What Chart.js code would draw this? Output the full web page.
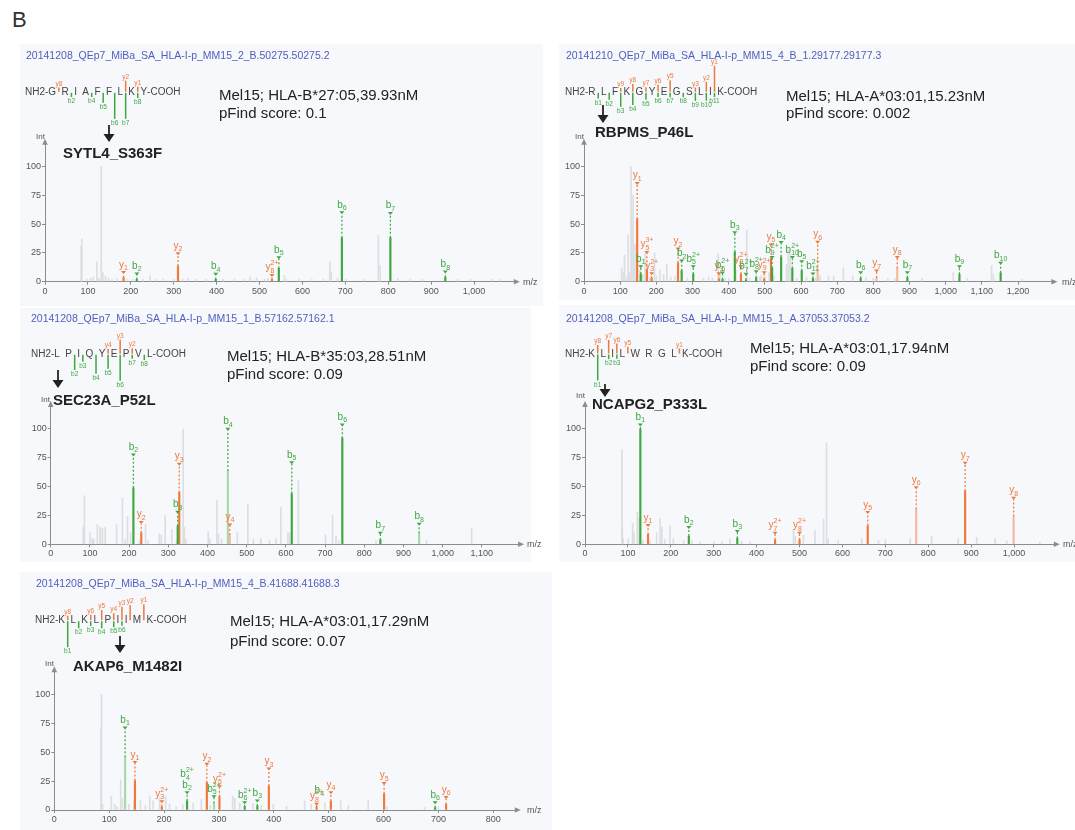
<!DOCTYPE html>
<html>
<head>
<meta charset="utf-8">
<script src="https://cdn.jsdelivr.net/npm/chart.js@4.4.1/dist/chart.umd.min.js"></script>
<style>
html,body{margin:0;padding:0;background:#fff;width:1075px;height:830px;overflow:hidden;font-family:"Liberation Sans",Arial,sans-serif}
.bg{position:absolute;background:#f6f8fc}
.t{position:absolute;white-space:nowrap;line-height:1;transform:translateY(-50%)}
canvas{position:absolute}
</style>
</head>
<body>
<script>
// ---------- spectra ----------
// matched fragments: [ion, m/z, intensity %, label height %, flag]  flag "p" = pale peak, "s" = label only
const p1Seq = "GRIAFFLKY";
const p1Ions = [
  ["y1",183,3.5,8],["b2",214,2,6.7],["y2",310,13.6,24.3],["b4",398,2,6.4],
  ["y8^2+",529,2,5.5],["b5",545,11.6,20.9],["b6",692,38.3,60],["b7",805,38.3,59.4],["b8",933,3.8,8.4]
];
const p1Other = [
  [84,31],[86,37],[98,2],[106,3],[112,4],[121,17],[126,3],[131,100],[135,8],[141,5],[148,3],[156,2],
  [168,3],[190,2],[205,2],[229,2],[245,5],[260,2],[275,2],[300,2],[321,2],[334,3],[352,2],[375,2],
  [415,2],[442,2],[465,2],[478,4],[493,3],[512,2],[520,3],[558,5],[562,2],[592,2],[622,2],[648,2],
  [664,17],[667,8],[682,3],[702,2],[742,2],[777,40],[781,14],[822,3],[852,2],[880,2],[962,2],[992,2],[1042,2],[1062,2]
];
const p1MzTicks = [0,100,200,300,400,500,600,700,800,900,1000];

const p2Seq = "RLFKGYEGSLIK";
const p2Ions = [
  ["y1",147,54.5,85.5],["b1",157,6.7,13],["y5^3+",174,10,25.5],["y3^2+",187,3,7],
  ["y2",260,16.5,28.4],["b2",270,9.6,18],["b5^2+",302,6.7,13],["y3",373,2,7],["b6^2+",383,2,7.5],
  ["b3",417,26,42.6],["y8^2+",434,6.7,13],["b7^2+",448,1.5,6.4],["b8^2+",476,3.5,8.7],["y9^2+",498,2,7.8],
  ["y5",517,20,32],["b9^2+",520,12,21],["b4",545,21.7,34],["b10^2+",576,11.6,21],["b5",602,9.6,17.4],
  ["b11^2+",633,3,6.7],["y6",646,9.6,34.2,"p"],["b6",765,3,7.8],["y7",809,3.5,9.3,"p"],["y8",866,11.6,21,"p"],
  ["b7",894,3.5,7.8],["b9",1038,6.4,13],["b10",1152,7.8,16]
];
const p2Other = [
  [104,12],[109,8],[112,23],[118,4],[122,41],[126,8],[130,100],[132,61],[136,75],[141,33],[147,5],[155,10],
  [163,6],[169,25],[175,7],[182,4],[195,25],[200,5],[210,10],[220,6],[229,15],[240,4],[252,5],[286,3],
  [330,3],[345,4],[355,3],[371,24],[376,8],[390,3],[400,3],[420,10],[450,45],[458,3],[486,4],[490,5],
  [500,4],[512,8],[525,5],[560,15],[565,28],[570,25],[588,3],[615,4],[640,3],[653,5],[676,5],[690,5],
  [717,12],[743,5],[780,4],[800,3],[840,3],[860,3],[935,3],[1021,8],[1060,3],[1127,14],[1132,6],[1210,2]
];
const p2MzTicks = [0,100,200,300,400,500,600,700,800,900,1000,1100,1200];

const p3Seq = "LPIQYEPVL";
const p3Ions = [
  ["b2",211,49,77.5],["y2",231,10,19],["b3",324,16,27.7],["y3",328,45,69.4],["b4",452,63.6,99.7,"p"],
  ["y4",457,8,16.8,"p"],["b5",615,44,70.8],["b6",744,92,103.5],["b7",841,3.8,9.5],["b8",940,9.5,17.3,"p"]
];
const p3Other = [
  [83,15],[86,42],[100,10],[106,5],[110,4],[119,17],[126,15],[132,14],[139,15],[168,17],[183,40],[190,4],
  [196,24],[204,10],[226,3],[242,17],[248,3],[277,9],[282,8],[292,25],[309,13],[321,3],[338,100],[341,15],
  [345,4],[402,11],[406,5],[424,38],[428,9],[436,5],[476,10],[503,35],[517,4],[536,5],[558,3],[575,5],
  [587,32],[605,10],[609,10],[632,55],[701,8],[719,25],[728,7],[735,3],[830,3],[959,3],[1074,14]
];
const p3MzTicks = [0,100,200,300,400,500,600,700,800,900,1000,1100];

const p4Seq = "KLILWRGLK";
const p4Ions = [
  ["b1",129,100,103.5],["y1",147,8.7,16.2],["b2",242,7.2,14.5],["b3",355,5.2,11],["y7^2+",443,3.8,9.5],
  ["y8^2+",500,3.8,9.5],["y5",659,16.2,27.5],["y6",772,30.3,49,"p"],["y7",886,46.2,70.2],["y8",999,24,40,"p"]
];
const p4Other = [
  [86,82],[87,14],[89,5],[101,5],[111,18],[114,10],[122,28],[126,23],[135,3],[152,3],[167,10],[175,22],
  [179,15],[186,4],[198,16],[206,5],[230,3],[249,3],[268,2],[300,2],[319,2],[338,4],[365,3],[385,2],
  [486,13],[490,7],[509,8],[536,12],[556,22],[563,88],[567,5],[590,3],[645,5],[684,3],[700,4],[758,5],
  [808,7],[870,5],[913,6],[956,5],[983,3],[1060,2]
];
const p4MzTicks = [0,100,200,300,400,500,600,700,800,900,1000];

const p5Seq = "KLKLPIIMK";
const p5Ions = [
  ["b1",129,45.5,71,"p"],["y1",147,25.4,41],["y3^2+",196,3,7.2],["b2",242,8,15],["b4^2+",242,8,24,"s"],
  ["y2",278,23.6,39.5],["b5^2+",291,5.8,11.5,"p"],["y5^2+",301,11.5,20],["b6^2+",347,2.9,6.3],["b3",370,3.5,7.8],
  ["y3",391,20.7,35.4],["y8^2+",478,2.9,4.9],["b4",483,3,10,"s"],["y4",504,7.8,15],["y5",601,14,23],
  ["b6",694,2,6.3],["y6",714,4.9,10.7]
];
const p5Other = [
  [85,70],[86,100],[88,5],[104,12],[110,5],[114,3],[121,26],[124,10],[136,5],[145,8],[157,8],[166,4],
  [174,12],[180,8],[192,10],[203,12],[210,5],[222,3],[234,5],[253,6],[268,9],[284,4],[325,12],[329,10],
  [338,6],[362,6],[377,4],[399,5],[423,3],[456,8],[468,5],[493,6],[522,8],[536,4],[572,8],[606,3],[675,2],[700,3]
];
const p5MzTicks = [0,100,200,300,400,500,600,700,800];

const intTicks = [0,25,50,75,100];

const spectrumIds = [
  "20141208_QEp7_MiBa_SA_HLA-I-p_MM15_2_B.50275.50275.2",
  "20141210_QEp7_MiBa_SA_HLA-I-p_MM15_4_B_1.29177.29177.3",
  "20141208_QEp7_MiBa_SA_HLA-I-p_MM15_1_B.57162.57162.1",
  "20141208_QEp7_MiBa_SA_HLA-I-p_MM15_1_A.37053.37053.2",
  "20141208_QEp7_MiBa_SA_HLA-I-p_MM15_4_B.41688.41688.3"
];
const alleles = [
  "Mel15; HLA-B*27:05,39.93nM","Mel15; HLA-A*03:01,15.23nM","Mel15; HLA-B*35:03,28.51nM",
  "Mel15; HLA-A*03:01,17.94nM","Mel15; HLA-A*03:01,17.29nM"
];
const scores = ["pFind score: 0.1","pFind score: 0.002","pFind score: 0.09","pFind score: 0.09","pFind score: 0.07"];
const mutations = ["SYTL4_S363F","RBPMS_P46L","SEC23A_P52L","NCAPG2_P333L","AKAP6_M1482I"];
const mzMax = [1095, 1295, 1195, 1095, 841];
const intMax = 120;

const SEQS = [p1Seq,p2Seq,p3Seq,p4Seq,p5Seq];
const IONS = [p1Ions,p2Ions,p3Ions,p4Ions,p5Ions];
const OTHER = [p1Other,p2Other,p3Other,p4Other,p5Other];
const MZTICKS = [p1MzTicks,p2MzTicks,p3MzTicks,p4MzTicks,p5MzTicks];

// ---------- page layout (px) ----------
const LAYOUT = [
  {bg:[20,44,523,262], area:[45,143.7,514.8,281.7], title:[26,55], seq:[25,92.3], info:[219,94,112], arrow:[109,125,142], gene:[63,152], int:[36,137], mz:[523,282]},
  {bg:[559,44,516,256], area:[584,143.7,1052.4,281.7], title:[566,55], seq:[565,92.3], info:[786,95,112], arrow:[603,105,123], gene:[595,131], int:[575,137], mz:[1062,282]},
  {bg:[20,308,511,254], area:[50.7,405.9,519.1,544.3], title:[31,318], seq:[31,354.3], info:[227,355,373], arrow:[58,370,388], gene:[53,399], int:[41,400], mz:[527,544]},
  {bg:[559,305,516,257], area:[585,405.9,1054.8,544.3], title:[566,318], seq:[565,354], info:[750,347,365], arrow:[605,384,397], gene:[592,403], int:[576,396], mz:[1063,544]},
  {bg:[20,572,532,258], area:[54.3,671.2,515.8,810], title:[36,583], seq:[35,620.7], info:[230,620,640], arrow:[120,636,653], gene:[73,665], int:[45,664], mz:[527,810]}
];
const YW = 22, XH = 14, GAP = 5.4;
const GREEN = '#3ea83e', ORANGE = '#f0783a', GREEN_P = '#a9d9a9', ORANGE_P = '#f6b99f', GREY = '#dcdee2', AXIS = '#8c8c8c';
const FONT = '"Liberation Sans", Arial, sans-serif';

function addText(txt, x, cy, css) {
  const d = document.createElement('div');
  d.className = 't'; d.textContent = txt;
  d.style.left = x + 'px'; d.style.top = cy + 'px';
  Object.assign(d.style, css);
  document.body.appendChild(d);
}

function ionParts(name) {
  const [b, c] = name.split('^');
  return {t: b[0], n: b.slice(1), c: c || ''};
}

function drawIonLabel(ctx, x, yMark, name, col) {
  const p = ionParts(name);
  ctx.fillStyle = col; ctx.textAlign = 'left'; ctx.textBaseline = 'alphabetic';
  ctx.font = '10px ' + FONT;
  const wt = ctx.measureText(p.t).width;
  ctx.font = '7px ' + FONT;
  const wn = ctx.measureText(p.n).width, wc = ctx.measureText(p.c).width;
  const x0 = x - (wt + Math.max(wn, wc)) / 2;
  const base = yMark - 5;
  ctx.font = '10px ' + FONT; ctx.fillText(p.t, x0, base);
  ctx.font = '7px ' + FONT; ctx.fillText(p.n, x0 + wt, base + 2.5);
  if (p.c) ctx.fillText(p.c, x0 + wt, base - 5);
}

// peptide sequence with fragment coverage ticks
function drawSequence(ctx, seq, ions, x0, yc) {
  const n = seq.length;
  ctx.font = '10px ' + FONT; ctx.fillStyle = '#444'; ctx.textBaseline = 'middle'; ctx.textAlign = 'left';
  let x = x0;
  ctx.fillText('NH2-', x, yc); x += ctx.measureText('NH2-').width;
  const cuts = [];
  for (let i = 0; i < n; i++) {
    ctx.fillText(seq[i], x, yc); x += ctx.measureText(seq[i]).width;
    if (i < n - 1) { cuts.push(x + GAP / 2); x += GAP; }
  }
  ctx.fillText('-COOH', x, yc);
  const bI = {}, yI = {};
  ions.forEach(([name, , inten]) => {
    const p = ionParts(name); const idx = +p.n;
    const k = p.t === 'b' ? idx : n - idx;
    const tgt = p.t === 'b' ? bI : yI;
    tgt[k] = Math.max(tgt[k] || 0, inten);
  });
  const imax = Math.max(...Object.values(bI), ...Object.values(yI));
  ctx.lineWidth = 1.5; ctx.font = '6.5px ' + FONT; ctx.textAlign = 'center';
  for (let k = 1; k < n; k++) {
    const cx = cuts[k - 1];
    if (bI[k]) {
      const len = 3 + 23 * bI[k] / imax;
      ctx.strokeStyle = GREEN; ctx.fillStyle = GREEN;
      ctx.beginPath(); ctx.moveTo(cx, yc + 0.5); ctx.lineTo(cx, yc + 0.5 + len); ctx.stroke();
      ctx.textBaseline = 'top'; ctx.fillText('b' + k, cx, yc + len + 1.5);
    }
    if (yI[k]) {
      const len = 3 + 23 * yI[k] / imax;
      ctx.strokeStyle = ORANGE; ctx.fillStyle = ORANGE;
      ctx.beginPath(); ctx.moveTo(cx, yc - 0.5); ctx.lineTo(cx, yc - 0.5 - len); ctx.stroke();
      ctx.textBaseline = 'bottom'; ctx.fillText('y' + (n - k), cx, yc - len - 1);
    }
  }
}

function buildPanel(k) {
  const L = LAYOUT[k];
  const [bx, by, bw, bh] = L.bg;
  const [al, at, ar, ab] = L.area;

  const bg = document.createElement('div');
  bg.className = 'bg';
  Object.assign(bg.style, {left: bx + 'px', top: by + 'px', width: bw + 'px', height: bh + 'px'});
  document.body.appendChild(bg);

  const cw = bw, ch = Math.ceil(ab + 24 - by);
  const canvas = document.createElement('canvas');
  canvas.width = cw; canvas.height = ch;
  Object.assign(canvas.style, {left: bx + 'px', top: by + 'px', width: cw + 'px', height: ch + 'px'});
  document.body.appendChild(canvas);

  const ions = IONS[k];
  const toPt = r => ({x: r[1], y: r[2], pale: r[4] === 'p'});
  const bData = ions.filter(r => r[0][0] === 'b' && r[4] !== 's').map(toPt);
  const yData = ions.filter(r => r[0][0] === 'y' && r[4] !== 's').map(toPt);
  const oData = OTHER[k].map(r => ({x: r[0], y: r[1]}));

  const annot = {
    id: 'annot' + k,
    afterDatasetsDraw(chart) {
      const ctx = chart.ctx, xs = chart.scales.x, ys = chart.scales.y;
      ctx.save();
      ions.forEach(([name, mz, inten, lab, flag]) => {
        const px = xs.getPixelForValue(mz);
        const p0 = ys.getPixelForValue(inten), p1 = ys.getPixelForValue(lab);
        const col = name[0] === 'b' ? GREEN : ORANGE;
        if (flag !== 's') {
          ctx.strokeStyle = col; ctx.fillStyle = col; ctx.lineWidth = 1.2;
          ctx.setLineDash([2, 2]);
          ctx.beginPath(); ctx.moveTo(px, p0); ctx.lineTo(px, p1 + 1); ctx.stroke();
          ctx.setLineDash([]);
          ctx.beginPath(); ctx.moveTo(px - 2.5, p1 - 1.5); ctx.lineTo(px + 2.5, p1 - 1.5); ctx.lineTo(px, p1 + 1.5); ctx.closePath(); ctx.fill();
        }
        drawIonLabel(ctx, px, p1, name, col);
      });
      ctx.restore();
    },
    afterDraw(chart) {
      const ctx = chart.ctx, ca = chart.chartArea;
      ctx.save();
      ctx.fillStyle = AXIS;
      // axis arrowheads
      ctx.beginPath(); ctx.moveTo(ca.right - 1, ca.bottom - 2.8); ctx.lineTo(ca.right + 5, ca.bottom); ctx.lineTo(ca.right - 1, ca.bottom + 2.8); ctx.closePath(); ctx.fill();
      ctx.beginPath(); ctx.moveTo(ca.left - 2.8, ca.top + 1); ctx.lineTo(ca.left, ca.top - 5); ctx.lineTo(ca.left + 2.8, ca.top + 1); ctx.closePath(); ctx.fill();
      // peptide map
      drawSequence(ctx, SEQS[k], ions, L.seq[0] - bx, L.seq[1] - by);
      // pointer to the mutated residue
      const [ax, a0, a1] = L.arrow;
      ctx.strokeStyle = '#222'; ctx.fillStyle = '#222'; ctx.lineWidth = 1.8;
      ctx.beginPath(); ctx.moveTo(ax - bx, a0 - by); ctx.lineTo(ax - bx, a1 - by - 6); ctx.stroke();
      ctx.beginPath(); ctx.moveTo(ax - bx - 5.5, a1 - by - 8); ctx.lineTo(ax - bx + 5.5, a1 - by - 8); ctx.lineTo(ax - bx, a1 - by); ctx.closePath(); ctx.fill();
      ctx.restore();
    }
  };

  const tickFont = {family: FONT, size: 9};
  const fmt = v => Number(v).toLocaleString('en-US');
  new Chart(canvas, {
    type: 'bar',
    data: {
      datasets: [
        {label: 'b ions', data: bData, order: 1, barThickness: 1.5,
         backgroundColor: c => (c.raw && c.raw.pale) ? GREEN_P : GREEN},
        {label: 'y ions', data: yData, order: 2, barThickness: 1.5,
         backgroundColor: c => (c.raw && c.raw.pale) ? ORANGE_P : ORANGE},
        {label: 'unassigned', data: oData, order: 3, barThickness: 1, backgroundColor: GREY}
      ]
    },
    options: {
      responsive: false, animation: false, devicePixelRatio: 1, locale: 'en-US',
      layout: {padding: {left: al - bx - YW, right: bx + bw - ar, top: at - by, bottom: ch - (ab - by) - XH}},
      datasets: {bar: {grouped: false}},
      plugins: {legend: {display: false}, tooltip: {enabled: false}},
      scales: {
        x: {
          type: 'linear', min: 0, max: mzMax[k], offset: false,
          grid: {offset: false, drawOnChartArea: false, tickLength: 3, color: AXIS},
          border: {color: AXIS},
          ticks: {autoSkip: false, maxRotation: 0, padding: 1, color: '#555', font: tickFont, callback: fmt},
          afterBuildTicks: s => { s.ticks = MZTICKS[k].map(v => ({value: v})); },
          afterFit: s => { s.height = XH; }
        },
        y: {
          type: 'linear', min: 0, max: intMax,
          grid: {drawOnChartArea: false, tickLength: 3, color: AXIS},
          border: {color: AXIS},
          ticks: {autoSkip: false, padding: 1, color: '#555', font: tickFont, callback: fmt},
          afterBuildTicks: s => { s.ticks = intTicks.map(v => ({value: v})); },
          afterFit: s => { s.width = YW; }
        }
      }
    },
    plugins: [annot]
  });

  addText(spectrumIds[k], L.title[0], L.title[1], {fontSize: '10.5px', color: '#4f5fbb'});
  addText(alleles[k], L.info[0], L.info[1], {fontSize: '15px', color: '#222'});
  addText(scores[k], L.info[0], L.info[2], {fontSize: '15px', color: '#222'});
  addText(mutations[k], L.gene[0], L.gene[1], {fontSize: '15px', fontWeight: 'bold', color: '#222'});
  addText('Int', L.int[0], L.int[1], {fontSize: '8px', color: '#555'});
  addText('m/z', L.mz[0], L.mz[1], {fontSize: '9px', color: '#555'});
}

for (let k = 0; k < 5; k++) buildPanel(k);
addText('B', 12, 20, {fontSize: '22px', color: '#333'});
</script>
</body>
</html>
